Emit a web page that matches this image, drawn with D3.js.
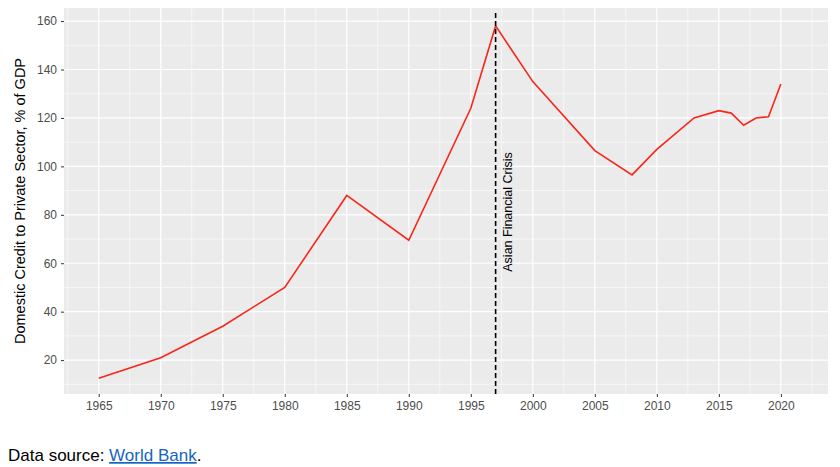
<!DOCTYPE html><html><head><meta charset="utf-8"><script src="https://cdn.jsdelivr.net/npm/d3@7"></script>
<style>body{margin:0;background:#fff;font-family:Arial,"Liberation Sans",sans-serif}</style></head><body><svg id="c" width="840" height="467"></svg>
<script>
const years=[1965,1970,1975,1980,1985,1990,1995,1997,2000,2005,2008,2010,2013,2015,2016,2017,2018,2019,2020];
const values=[12.5,21,34,50,88,69.5,124,158,135,106.5,96.5,107,120,123,122,117,120,120.5,134];
const xTicks=d3.range(1965,2021,5);
const yTicks=[20,40,60,80,100,120,140,160];
const svg=d3.select("#c");
const L=64,R=828,T=8,B=394;
const x=d3.scaleLinear().domain([1962.2,2023.8]).range([L,R]);
const y=d3.scaleLinear().domain([6,165.4]).range([B,T]);
svg.append("rect").attr("x",L).attr("y",T).attr("width",R-L).attr("height",B-T).attr("fill","#ebebeb");
const g=svg.append("g");
d3.range(1962.5,2024,5).forEach(v=>g.append("line").attr("x1",x(v)).attr("x2",x(v)).attr("y1",T).attr("y2",B).attr("stroke","#fff").attr("stroke-width",0.6));
d3.range(10,166,20).forEach(v=>g.append("line").attr("y1",y(v)).attr("y2",y(v)).attr("x1",L).attr("x2",R).attr("stroke","#fff").attr("stroke-width",0.6));
xTicks.forEach(v=>g.append("line").attr("x1",x(v)).attr("x2",x(v)).attr("y1",T).attr("y2",B).attr("stroke","#fff").attr("stroke-width",1.2));
yTicks.forEach(v=>g.append("line").attr("y1",y(v)).attr("y2",y(v)).attr("x1",L).attr("x2",R).attr("stroke","#fff").attr("stroke-width",1.2));
const xa=svg.append("g").attr("transform",`translate(0,${B})`).call(d3.axisBottom(x).tickValues(xTicks).tickFormat(d3.format("d")).tickSize(3).tickPadding(4));
const ya=svg.append("g").attr("transform",`translate(${L},0)`).call(d3.axisLeft(y).tickValues(yTicks).tickSize(3).tickPadding(4));
[xa,ya].forEach(a=>{a.select(".domain").remove();a.selectAll("line").attr("stroke","#333");a.selectAll("text").attr("fill","#4d4d4d").style("font-size","12px").style("font-family","Arial,'Liberation Sans',sans-serif");});
svg.append("path").datum(years.map((d,i)=>[d,values[i]])).attr("d",d3.line().x(d=>x(d[0])).y(d=>y(d[1]))).attr("fill","none").attr("stroke","#f8261a").attr("stroke-width",1.6);
svg.append("line").attr("x1",x(1997)).attr("x2",x(1997)).attr("y1",T+5).attr("y2",B).attr("stroke","#000").attr("stroke-width",1.6).attr("stroke-dasharray","5,3");
svg.append("text").attr("transform",`translate(${x(1997)+16},212) rotate(-90)`).attr("text-anchor","middle").style("font-size","12.5px").text("Asian Financial Crisis");
svg.append("text").attr("transform",`translate(25,201) rotate(-90)`).attr("text-anchor","middle").style("font-size","14.5px").text("Domestic Credit to Private Sector, % of GDP");
const t=svg.append("text").attr("x",8).attr("y",461).style("font-size","17px");
t.append("tspan").text("Data source: ");
t.append("tspan").attr("fill","#1565c0").attr("text-decoration","underline").text("World Bank");
t.append("tspan").text(".");
</script></body></html>
